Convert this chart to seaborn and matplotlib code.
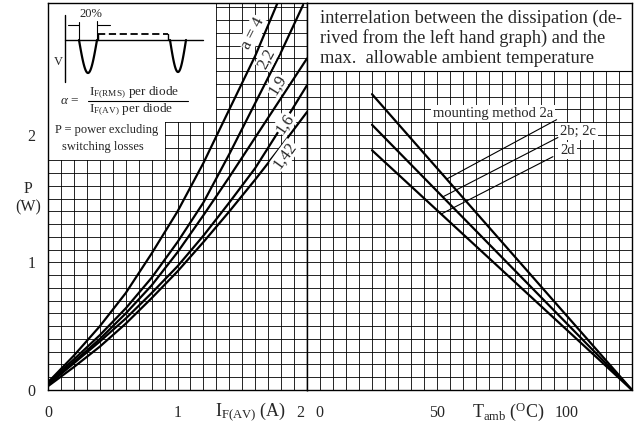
import numpy as np
import pandas as pd
import matplotlib.pyplot as plt
import seaborn as sns
from matplotlib.patches import Polygon, Rectangle
from matplotlib.transforms import ScaledTranslation

sns.set_style('white')
plt.rcParams['font.family'] = ['Liberation Serif', 'DejaVu Serif']
plt.rcParams['mathtext.fontset'] = 'custom'
plt.rcParams['mathtext.rm'] = 'Liberation Serif'
plt.rcParams['mathtext.it'] = 'Liberation Serif:italic'

# --- left graph: dissipation P (W) vs I_F(AV) (A), one curve per form factor ---
curve_labels = ['a = 4', '2,2', '1,9', '1,6', '1,42']
i_a4 = [0, 0.2, 0.4, 0.6, 0.8, 1.0, 1.2, 1.4, 1.6, 1.77]
p_a4 = [0.06, 0.27, 0.50, 0.76, 1.07, 1.40, 1.78, 2.20, 2.62, 3.03]
i_22 = [0, 0.2, 0.4, 0.6, 0.8, 1.0, 1.2, 1.4, 1.6, 1.8, 1.97]
p_22 = [0.06, 0.24, 0.43, 0.64, 0.88, 1.16, 1.47, 1.85, 2.25, 2.65, 3.02]
i_std = [0, 0.2, 0.4, 0.6, 0.8, 1.0, 1.2, 1.4, 1.6, 1.8, 2.0]
p_19 = [0.05, 0.22, 0.40, 0.60, 0.82, 1.08, 1.37, 1.67, 1.98, 2.29, 2.60]
p_16 = [0.04, 0.21, 0.38, 0.56, 0.76, 0.97, 1.21, 1.47, 1.74, 2.06, 2.39]
p_142 = [0.03, 0.18, 0.34, 0.52, 0.72, 0.93, 1.16, 1.40, 1.65, 1.91, 2.18]

# --- right graph: P (W) vs T_amb (degC), one line per mounting method ---
mount_labels = ['2a', '2b; 2c', '2d']
t_amb = [25, 125]
p_2a = [2.32, 0]
p_2bc = [2.08, 0]
p_2d = [1.88, 0]

left = pd.concat([
    pd.DataFrame({'I': i_a4, 'P': p_a4, 'curve': curve_labels[0]}),
    pd.DataFrame({'I': i_22, 'P': p_22, 'curve': curve_labels[1]}),
    pd.DataFrame({'I': i_std, 'P': p_19, 'curve': curve_labels[2]}),
    pd.DataFrame({'I': i_std, 'P': p_16, 'curve': curve_labels[3]}),
    pd.DataFrame({'I': i_std, 'P': p_142, 'curve': curve_labels[4]}),
])
right = pd.concat([
    pd.DataFrame({'T': t_amb, 'P': p, 'mount': m})
    for p, m in zip([p_2a, p_2bc, p_2d], mount_labels)
])

fig = plt.figure(figsize=(6.4, 4.24), dpi=100)
ax1 = fig.add_axes([48 / 640, 34 / 424, 259 / 640, 387 / 424])
ax2 = fig.add_axes([307 / 640, 34 / 424, 325 / 640, 387 / 424])
ymax = 3.035

for ax in (ax1, ax2):
    ax.set_ylim(0, ymax)
    ax.set_yticks([0, 1, 2])
    ax.set_yticks(np.arange(0, ymax, 0.1), minor=True)
    ax.set_axisbelow(True)
    ax.grid(which='both', color='black', lw=0.6)
    ax.tick_params(which='both', length=0, labelsize=11.5)
    ax.tick_params(axis='x', pad=11)
    ax.tick_params(axis='y', pad=9)
    for sp in ax.spines.values():
        sp.set_color('black')
        sp.set_linewidth(1.0)

ax1.set_xlim(0, 2)
ax1.set_xticks([0, 1, 2])
ax1.set_xticks(np.arange(0, 2.01, 0.1), minor=True)
ax2.set_xlim(0, 125)
ax2.set_xticks([0, 50, 100])
ax2.set_xticks(np.arange(0, 126, 5), minor=True)
ax2.tick_params(axis='y', labelleft=False)

# white areas for the notes
ax1.add_patch(Polygon([[0, 1.8], [0.9, 1.8], [0.9, 2.1], [1.3, 2.1], [1.3, ymax], [0, ymax]],
                      closed=True, fc='white', ec='none', zorder=1))
ax2.add_patch(Rectangle((0, 2.5), 125, 1, fc='white', ec='black', lw=0.8, zorder=1))

sns.lineplot(data=left, x='I', y='P', hue='curve', palette=['black'] * 5, sort=False,
             estimator=None, legend=False, lw=1.6, ax=ax1, zorder=2)
sns.lineplot(data=right, x='T', y='P', hue='mount', palette=['black'] * 3, sort=False,
             estimator=None, legend=False, lw=1.6, ax=ax2, zorder=2)

# curve labels along the curves
lab_x = [1.58, 1.69, 1.77, 1.83, 1.83]
lab_y = [2.80, 2.60, 2.39, 2.09, 1.84]
lab_rot = [63, 62, 58, 56, 54]
for txt, x, y, r in zip(curve_labels, lab_x, lab_y, lab_rot):
    ax1.text(x, y, txt, rotation=r, ha='center', va='center', fontsize=12, zorder=3,
             bbox=dict(fc='white', ec='none', pad=0.5))

# mounting method labels with leader lines
text_pos = [(48.3, 2.17, 'mounting method 2a'), (97.3, 2.03, '2b; 2c'), (97.3, 1.88, '2d')]
lead_from = [(96.0, 2.12), (96.5, 1.98), (94.6, 1.83)]
lead_to_t = [53.7, 52.2, 51.6]
for (tx, ty, s), (fx, fy), tt, p in zip(text_pos, lead_from, lead_to_t, [p_2a, p_2bc, p_2d]):
    ax2.text(tx, ty, s, ha='left', va='center', fontsize=10.5, zorder=3,
             bbox=dict(fc='white', ec='none', pad=1.5))
    ax2.plot([fx, tt], [fy, np.interp(tt, t_amb, p)], color='black', lw=0.8, zorder=3)

ax2.text(5, 2.985, 'interrelation between the dissipation (de-\n'
         'rived from the left hand graph) and the\n'
         'max.  allowable ambient temperature',
         ha='left', va='top', fontsize=13.2, linespacing=1.2, zorder=3)

# axis labels
ax1.set_ylabel('P\n(W)', rotation=0, ha='center', va='center', fontsize=11.5)
ax1.yaxis.set_label_coords(-0.077, 0.495)
ax1.set_xlabel(r'$\mathregular{I_{F(AV)}}$ (A)', fontsize=13, va='center')
ax1.xaxis.set_label_coords(0.78, -0.055)
ax2.set_xlabel(r'$\mathregular{T_{amb}}$ ($\mathregular{^{O}}$C)', fontsize=13, va='center')
ax2.xaxis.set_label_coords(0.62, -0.055)

# schematic of the voltage waveform (drawn in pixel units on an overlay)
ov = fig.add_axes([0, 0, 1, 1], zorder=5)
ov.set_xlim(0, 640)
ov.set_ylim(424, 0)
ov.axis('off')
ov.patch.set_alpha(0)
k = dict(color='black', lw=1.0)
ov.plot([65, 203], [40, 40], **k)
ov.plot([65, 65], [15, 82], **k)
ph = np.linspace(0, np.pi, 40)
ov.plot(np.linspace(79, 97, 40), 40 + 33 * np.sin(ph), color='black', lw=1.6)
ov.plot(np.linspace(170, 186, 40), 40 + 32 * np.sin(ph), color='black', lw=1.6)
ov.plot([98, 98], [40, 33.5], **k)
ov.plot([98, 168], [33.5, 33.5], color='black', lw=1.3, ls=(0, (4, 2)))
ov.plot([168, 168], [33.5, 40], **k)
ov.plot([79.3, 79.3], [22, 40], lw=0.8, color='black')
ov.plot([96.7, 96.7], [21, 40], lw=0.8, color='black')
ov.plot([68, 79.3], [24.5, 24.5], lw=0.8, color='black')
ov.plot([96.7, 110], [24.5, 24.5], lw=0.8, color='black')
ov.text(91, 14, '20%', ha='center', va='center', fontsize=9)
ov.text(58, 62, 'V', ha='center', va='center', fontsize=9)
ov.text(79, 101, r'$\alpha$ =', ha='right', va='center', fontsize=9.5)
ov.text(89, 92.5, r'$\mathregular{I_{F(RMS)}}$ per diode', ha='left', va='center', fontsize=9.5)
ov.plot([88, 188], [100.5, 100.5], lw=0.8, color='black')
ov.text(89, 109.5, r'$\mathregular{I_{F(AV)}}$ per diode', ha='left', va='center', fontsize=9.5)
ov.text(55, 130, 'P = power excluding', ha='left', va='center', fontsize=9)
ov.text(62, 147, 'switching losses', ha='left', va='center', fontsize=9)

# tick labels "2" and "0" sit either side of the common border
fig.canvas.draw()
lab2 = ax1.get_xticklabels()[2]
lab2.set_transform(lab2.get_transform() + ScaledTranslation(-7 / 100, 0, fig.dpi_scale_trans))
lab0 = ax2.get_xticklabels()[0]
lab0.set_transform(lab0.get_transform() + ScaledTranslation(12 / 100, 0, fig.dpi_scale_trans))

fig.savefig('out.png', dpi=100)
